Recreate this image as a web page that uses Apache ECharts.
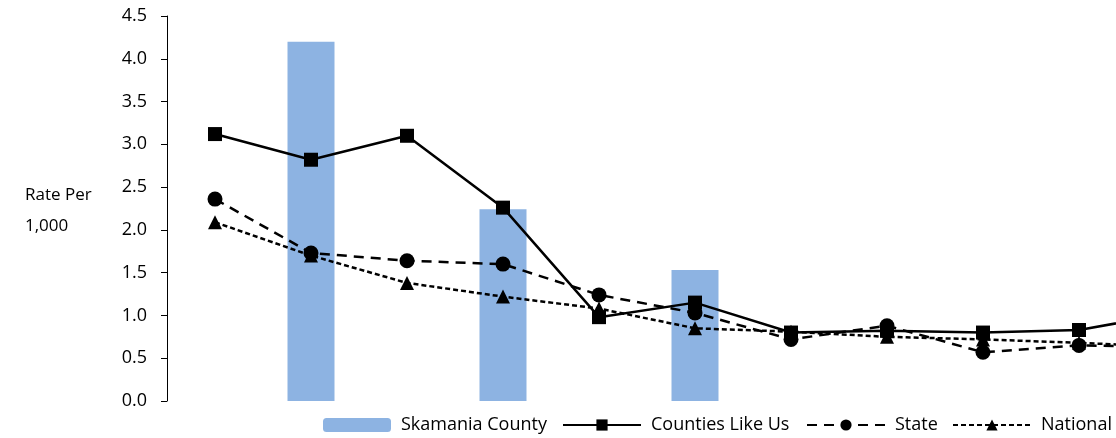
<!DOCTYPE html>
<html>
<head>
<meta charset="utf-8">
<script src="https://cdn.jsdelivr.net/npm/echarts@6/dist/echarts.min.js"></script>
<style>
  html, body { margin: 0; padding: 0; background: #fff; }
  #rateChart { width: 1116px; height: 438px; }
</style>
</head>
<body>
<div id="rateChart"></div>
<script>
// categories have no visible labels in the source picture
const categories = ['1', '2', '3', '4', '5', '6', '7', '8', '9', '10', '11']
const skamaniaCounty = [null, 4.2, null, 2.24, null, 1.53, null, null, null, null, null]
const countiesLikeUs = [3.12, 2.82, 3.1, 2.26, 0.98, 1.15, 0.8, 0.82, 0.8, 0.83, 1.03]
const stateRate = [2.36, 1.73, 1.64, 1.6, 1.24, 1.03, 0.72, 0.88, 0.57, 0.65, 0.63]
const nationalRate = [2.09, 1.7, 1.38, 1.22, 1.08, 0.85, 0.81, 0.75, 0.72, 0.68, 0.63]
const yTicks = ['0.0', '0.5', '1.0', '1.5', '2.0', '2.5', '3.0', '3.5', '4.0', '4.5']

const font = '"Open Sans", "Noto Sans", sans-serif'
const chart = echarts.init(document.getElementById('rateChart'))

const legendBase = {
  top: 416,
  padding: 0,
  itemWidth: 78,
  itemHeight: 14,
  textStyle: { fontFamily: font, fontSize: 18, color: '#000', padding: [0, 0, 0, 5] },
  selectedMode: false
}

chart.setOption({
  animation: false,
  textStyle: { fontFamily: font },
  // plot runs past the right edge of the picture, like the source
  grid: { left: 167, top: 16, bottom: 37, width: 1056, outerBoundsMode: 'none' },
  graphic: [
    {
      type: 'text',
      left: 25,
      top: 180,
      style: { text: 'Rate Per\n1,000', font: '17px ' + font, fill: '#000', lineHeight: 31 }
    }
  ],
  legend: [
    Object.assign({}, legendBase, { left: 323, data: ['Skamania County'], itemWidth: 68 }),
    Object.assign({}, legendBase, { left: 562, data: ['Counties Like Us'] }),
    Object.assign({}, legendBase, { left: 806, data: ['State'] }),
    Object.assign({}, legendBase, { left: 952, data: ['National'] })
  ],
  xAxis: {
    type: 'category',
    data: categories,
    boundaryGap: true,
    axisLine: { show: false },
    axisTick: { show: false },
    axisLabel: { show: false }
  },
  yAxis: {
    type: 'value',
    min: 0,
    max: 4.5,
    interval: 0.5,
    splitLine: { show: false },
    axisLine: { show: true, lineStyle: { color: '#000', width: 1 } },
    axisTick: { show: true, length: 6, lineStyle: { color: '#000' } },
    axisLabel: {
      color: '#000',
      fontSize: 18,
      fontFamily: font,
      margin: 20,
      formatter: (v) => yTicks[Math.round(v * 2)]
    }
  },
  series: [
    {
      name: 'Skamania County',
      type: 'bar',
      data: skamaniaCounty,
      barWidth: 47,
      itemStyle: { color: '#8db3e2' }
    },
    {
      name: 'Counties Like Us',
      type: 'line',
      data: countiesLikeUs,
      symbol: 'rect',
      symbolSize: 14,
      itemStyle: { color: '#000' },
      lineStyle: { color: '#000', width: 2.5 }
    },
    {
      name: 'State',
      type: 'line',
      data: stateRate,
      symbol: 'circle',
      symbolSize: 15,
      itemStyle: { color: '#000' },
      lineStyle: { color: '#000', width: 2.5, type: [10, 7] }
    },
    {
      name: 'National',
      type: 'line',
      data: nationalRate,
      symbol: 'triangle',
      symbolSize: 14,
      itemStyle: { color: '#000' },
      lineStyle: { color: '#000', width: 2.5, type: [5, 3] }
    }
  ]
})
</script>
</body>
</html>
